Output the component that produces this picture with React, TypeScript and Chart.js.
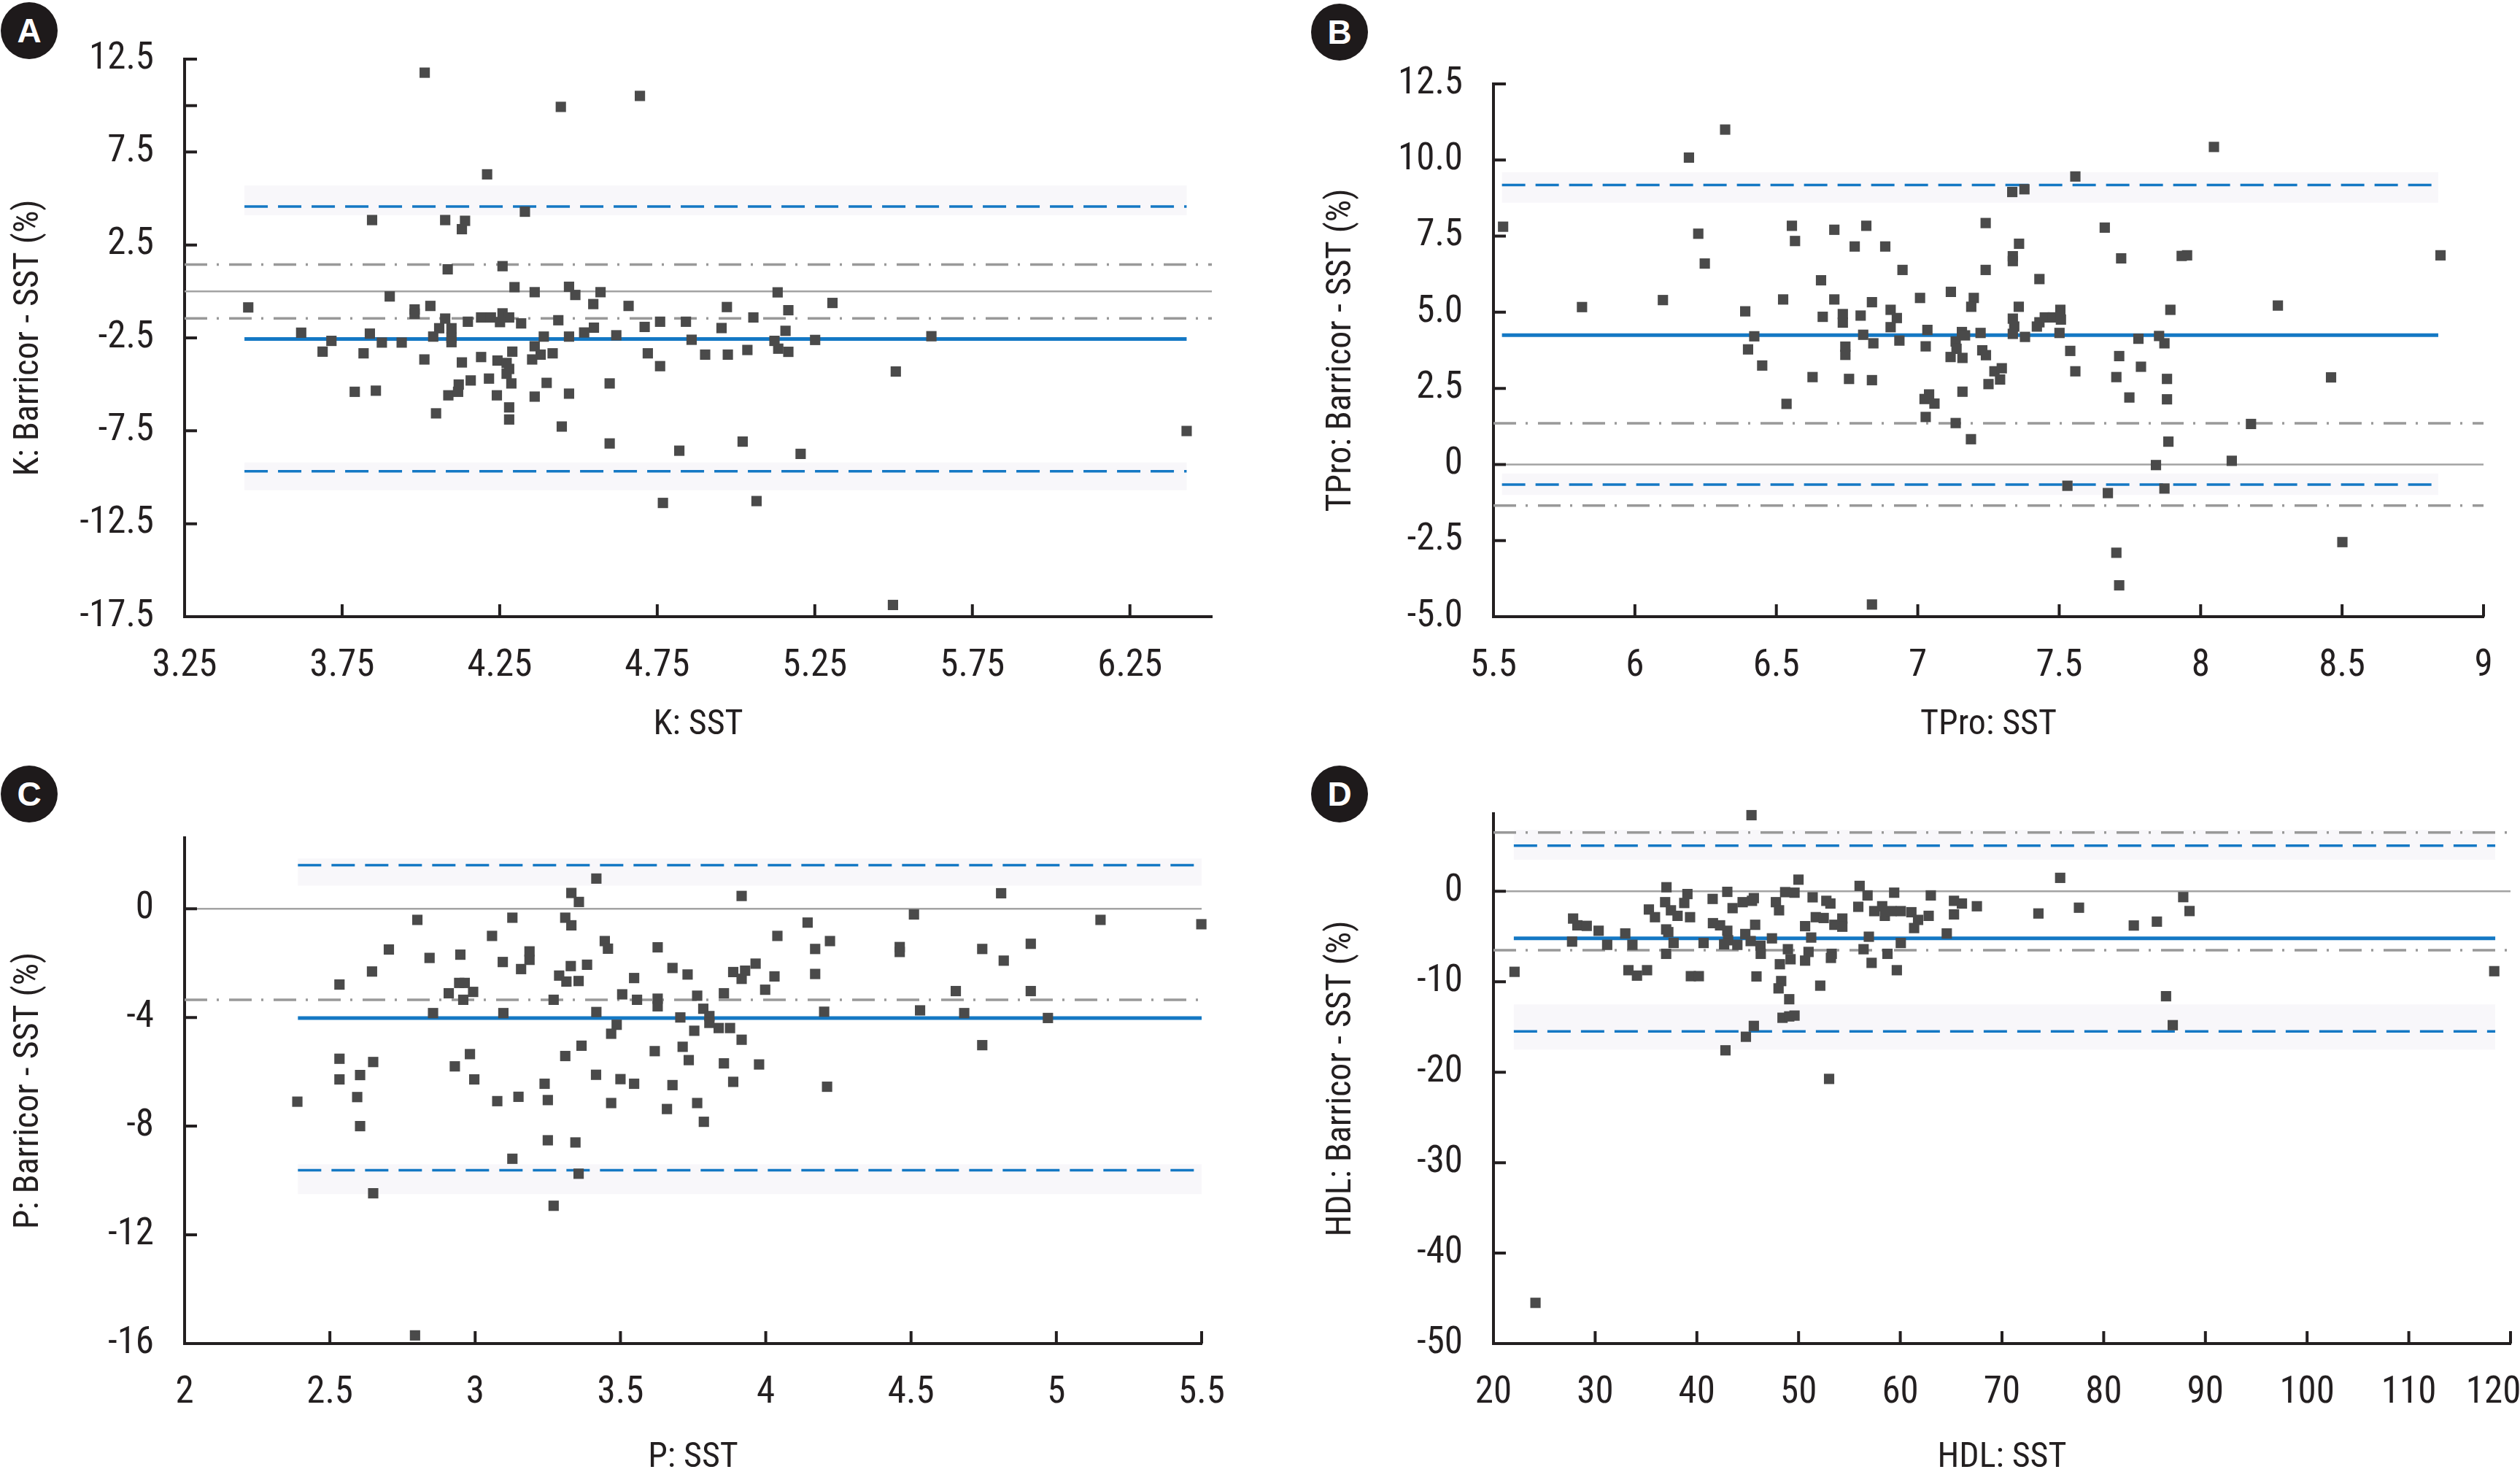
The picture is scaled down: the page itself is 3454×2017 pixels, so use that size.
import React, { useEffect, useRef } from 'react';
import { Chart, registerables } from 'chart.js';

Chart.register(...registerables);

type Pt = [number, number];

// ---------------- Panel A: K ----------------
const kPoints: Pt[] = [
  [4.21, 6.3], [4.33, 4.29], [3.845, 3.84], [4.077, 3.84], [4.14, 3.8], [4.13, 3.35], [4.085, 1.19], [4.259, 1.36],
  [4.297, 0.23], [4.361, -0.04], [4.47, 0.25], [4.49, -0.19], [4.57, -0.04], [3.901, -0.27], [4.547, -0.68], [4.659, -0.78],
  [3.98, -0.97], [4.03, -0.78], [3.98, -1.2], [4.077, -1.46], [4.149, -1.63], [4.191, -1.4], [4.222, -1.4], [4.259, -1.18],
  [4.28, -1.4], [4.251, -1.65], [4.318, -1.72], [4.436, -1.55], [4.549, -1.95], [4.71, -1.91], [4.759, -1.63], [4.841, -1.63],
  [4.058, -1.98], [4.097, -1.98], [3.838, -2.27], [4.039, -2.43], [4.097, -2.49], [4.39, -2.43], [4.47, -2.43], [4.518, -2.21],
  [4.62, -2.36], [3.716, -2.66], [3.876, -2.75], [3.939, -2.75], [4.097, -2.73], [4.859, -2.6], [3.688, -3.24], [3.818, -3.33],
  [4.361, -2.95], [4.38, -3.4], [4.29, -3.24], [4.418, -3.33], [4.011, -3.66], [4.191, -3.53], [4.243, -3.72], [4.272, -3.85],
  [4.353, -3.66], [4.13, -3.82], [4.72, -3.33], [4.759, -4.02], [4.28, -4.17], [4.272, -4.43], [4.158, -4.79], [4.216, -4.69],
  [4.12, -5.01], [4.287, -4.95], [4.399, -4.92], [4.599, -4.95], [3.79, -5.4], [3.857, -5.34], [4.087, -5.59], [4.118, -5.4],
  [4.241, -5.59], [4.361, -5.66], [4.47, -5.5], [4.28, -6.24], [4.28, -6.89], [4.048, -6.56], [4.447, -7.27], [4.599, -8.18],
  [4.82, -8.57], [4.768, -11.38], [4.012, 11.77], [4.444, 9.93], [4.695, 10.52], [3.452, -0.86], [3.62, -2.22],
  [4.902, -3.4], [4.954, -1.97], [4.971, -0.84], [4.974, -3.4], [5.036, -3.15], [5.021, -8.08], [5.055, -1.4], [5.065, -11.28],
  [5.132, -0.05], [5.166, -1.01], [5.157, -2.12], [5.122, -2.66], [5.134, -3.08], [5.166, -3.25], [5.205, -8.74], [5.251, -2.61],
  [5.306, -0.62], [5.507, -4.31], [5.498, -16.87], [5.62, -2.41], [6.43, -7.51],
];
const kMean = -2.56;
const kLimits = [4.57, -9.68];
const kAllowable = [1.45, -1.45];
const kSpan = [3.44, 6.43];
const kBands = [[4.1, 5.7], [-10.7, -9.2]];
const kXTicks = [3.25, 3.75, 4.25, 4.75, 5.25, 5.75, 6.25];
const kXLabels = ['3.25', '3.75', '4.25', '4.75', '5.25', '5.75', '6.25'];
const kYTicks = [12.5, 10, 7.5, 2.5, -2.5, -7.5, -12.5, -17.5];
const kYLabels = ['12.5', '', '7.5', '2.5', '-2.5', '-7.5', '-12.5', '-17.5'];

// ---------------- Panel B: TPro ----------------
const tproPoints: Pt[] = [
  [6.555, 7.84], [6.705, 7.71], [6.818, 7.84], [6.566, 7.34], [6.777, 7.16], [6.885, 7.16], [7.24, 7.93], [6.946, 6.39],
  [6.658, 6.05], [7.358, 7.25], [7.336, 6.84], [7.336, 6.68], [7.24, 6.39], [7.43, 6.09], [7.661, 7.78], [7.719, 6.77],
  [7.933, 6.85], [6.524, 5.42], [6.705, 5.42], [6.838, 5.33], [7.008, 5.47], [7.117, 5.67], [7.198, 5.47], [7.189, 5.18],
  [7.357, 5.18], [6.904, 5.08], [6.664, 4.85], [6.735, 4.94], [6.735, 4.66], [6.798, 4.89], [6.926, 4.81], [6.904, 4.51],
  [6.807, 4.26], [6.843, 3.98], [6.935, 4.07], [7.034, 4.42], [7.028, 3.88], [6.744, 3.87], [6.744, 3.6], [7.156, 4.35],
  [7.167, 4.24], [7.134, 4.04], [7.137, 3.8], [7.116, 3.53], [7.158, 3.5], [7.222, 4.32], [7.228, 3.75], [7.241, 3.59],
  [7.336, 4.79], [7.341, 4.53], [7.336, 4.29], [7.379, 4.19], [7.421, 4.53], [7.43, 4.67], [7.449, 4.83], [7.477, 4.83],
  [7.504, 5.08], [7.506, 4.76], [7.501, 4.32], [7.539, 3.73], [7.557, 3.06], [7.78, 4.13], [7.853, 4.22], [7.872, 3.98],
  [7.893, 5.08], [7.712, 3.56], [7.789, 3.21], [7.702, 2.87], [7.881, 2.81], [7.748, 2.2], [7.881, 2.14], [7.886, 0.75],
  [7.842, -0.02], [7.872, -0.79], [7.672, -0.94], [7.529, -0.7], [7.702, -2.9], [7.712, -3.97], [6.838, -4.6], [6.628, 2.87],
  [6.757, 2.81], [6.838, 2.77], [6.536, 1.99], [7.024, 2.15], [7.04, 2.3], [7.059, 2.0], [7.028, 1.56], [7.158, 2.39],
  [7.25, 2.64], [7.271, 3.06], [7.297, 3.16], [7.291, 2.79], [7.134, 1.36], [7.188, 0.83], [6.45, 3.25],
  [5.534, 7.81], [5.813, 5.17], [6.099, 5.4], [6.191, 10.08], [6.224, 7.58], [6.247, 6.6], [6.319, 11.0], [6.39, 5.03],
  [6.4, 3.78], [6.422, 4.21], [7.334, 8.95], [7.377, 9.04], [7.557, 9.46], [8.047, 10.43], [7.952, 6.87], [8.848, 6.87],
  [8.273, 5.22], [8.461, 2.86], [8.178, 1.33], [8.11, 0.12], [8.501, -2.55],
];
const tproMean = 4.25;
const tproLimits = [9.18, -0.66];
const tproAllowable = [1.35, -1.35];
const tproSpan = [5.53, 8.84];
const tproBands = [[8.6, 9.6], [-1.0, -0.3]];
const tproXTicks = [5.5, 6, 6.5, 7, 7.5, 8, 8.5, 9];
const tproXLabels = ['5.5', '6', '6.5', '7', '7.5', '8', '8.5', '9'];
const tproYTicks = [12.5, 10, 7.5, 5, 2.5, 0, -2.5, -5];
const tproYLabels = ['12.5', '10.0', '7.5', '5.0', '2.5', '0', '-2.5', '-5.0'];

// ---------------- Panel C: P ----------------
const pPoints: Pt[] = [
  [3.417, 1.11], [3.331, 0.58], [3.357, 0.25], [3.917, 0.47], [3.128, -0.33], [3.31, -0.33], [3.331, -0.61], [3.058, -1.0],
  [4.04, -1.0], [4.144, -0.51], [3.446, -1.19], [3.457, -1.47], [3.628, -1.42], [2.949, -1.69], [3.095, -1.96], [3.187, -1.57],
  [3.187, -1.88], [3.158, -2.22], [3.329, -2.11], [3.385, -2.06], [3.289, -2.46], [3.314, -2.68], [3.356, -2.66], [3.679, -2.18],
  [3.731, -2.42], [3.547, -2.55], [3.888, -2.33], [3.929, -2.28], [3.965, -2.02], [4.03, -2.49], [3.917, -2.58], [3.998, -2.98],
  [2.945, -2.73], [2.964, -2.73], [2.909, -3.11], [2.993, -3.06], [2.959, -3.35], [3.27, -3.35], [3.506, -3.15], [3.557, -3.35],
  [3.628, -3.31], [3.628, -3.59], [3.764, -3.2], [3.856, -3.11], [2.855, -3.84], [3.097, -3.84], [3.417, -3.8], [3.785, -3.68],
  [3.706, -4.0], [3.806, -3.95], [3.806, -4.2], [3.487, -4.27], [3.468, -4.6], [3.754, -4.49], [3.838, -4.39], [3.877, -4.39],
  [3.917, -4.82], [3.366, -5.04], [3.31, -5.42], [3.618, -5.24], [3.714, -5.08], [3.735, -5.57], [2.982, -5.35], [2.93, -5.8],
  [2.997, -6.28], [3.239, -6.44], [3.416, -6.11], [3.5, -6.27], [3.547, -6.44], [3.679, -6.49], [3.856, -5.69], [3.977, -5.73],
  [3.888, -6.37], [3.076, -7.08], [3.149, -6.92], [3.25, -7.04], [3.468, -7.15], [3.66, -7.37], [3.764, -7.15], [3.787, -7.84],
  [3.25, -8.52], [3.345, -8.6], [3.128, -9.2], [3.356, -9.75], [3.27, -10.93],
  [2.388, -7.1], [2.533, -2.79], [2.533, -5.52], [2.533, -6.28], [2.594, -6.93], [2.604, -6.12], [2.604, -8.0], [2.645, -2.31],
  [2.649, -5.64], [2.649, -10.47], [2.703, -1.5], [2.801, -0.41], [2.793, -15.7], [2.843, -1.81],
  [4.17, -1.48], [4.17, -2.4], [4.221, -1.19], [4.201, -3.79], [4.211, -6.55], [4.51, -0.21], [4.461, -1.41], [4.461, -1.59],
  [4.531, -3.74], [4.654, -3.03], [4.683, -3.84], [4.745, -1.48], [4.745, -5.02], [4.81, 0.57], [4.819, -1.91], [4.912, -1.29],
  [4.912, -3.03], [4.971, -4.02], [5.152, -0.41], [5.499, -0.57],
];
const pMean = -4.02;
const pLimits = [1.6, -9.62];
const pAllowable = [-3.35];
const pSpan = [2.39, 5.5];
const pBands = [[0.85, 1.85], [-10.5, -9.4]];
const pXTicks = [2, 2.5, 3, 3.5, 4, 4.5, 5, 5.5];
const pXLabels = ['2', '2.5', '3', '3.5', '4', '4.5', '5', '5.5'];
const pYTicks = [0, -4, -8, -12, -16];
const pYLabels = ['0', '-4', '-8', '-12', '-16'];

// ---------------- Panel D: HDL ----------------
const hdlPoints: Pt[] = [
  [45.37, 8.42], [37.01, 0.45], [39.07, -0.3], [36.88, -1.2], [38.76, -1.29], [35.28, -2.01], [37.45, -2.1], [35.88, -2.86],
  [38.1, -2.71], [39.33, -2.86], [41.55, -0.84], [42.99, -0.06], [43.51, -1.86], [44.5, -1.2], [45.42, -1.05], [45.6, -0.75],
  [41.58, -3.52], [42.28, -3.76], [36.98, -4.21], [37.19, -4.51], [45.73, -3.7], [42.99, -4.36], [44.76, -4.72], [43.07, -5.41],
  [45.29, -5.5], [40.66, -5.71], [42.68, -5.86], [43.98, -5.92], [37.71, -5.71], [36.98, -6.91], [27.83, -3.01], [28.25, -3.76],
  [29.17, -3.82], [30.34, -4.36], [27.73, -5.56], [31.18, -5.92], [32.96, -4.66], [33.66, -5.92], [33.27, -8.72], [34.11, -9.32],
  [35.1, -8.72], [39.41, -9.38], [40.19, -9.38], [49.99, 1.29], [48.68, -0.09], [49.6, -0.15], [47.77, -1.2], [48.08, -2.1],
  [47.38, -5.2], [46.25, -6.01], [46.28, -6.91], [48.95, -6.4], [49.21, -7.51], [48.16, -8.06], [50.64, -3.85], [51.24, -5.11],
  [50.98, -6.7], [50.64, -7.66], [51.38, -0.66], [52.73, -1.05], [53.13, -1.35], [51.69, -2.86], [52.47, -2.95], [54.3, -3.01],
  [54.3, -3.91], [53.52, -3.7], [53.26, -6.91], [53.18, -7.36], [45.86, -9.41], [48.29, -9.92], [48.03, -10.73], [49.08, -11.93],
  [48.42, -13.98], [49.08, -13.83], [49.6, -13.74], [52.13, -10.43], [45.6, -14.88], [44.82, -16.08], [42.81, -17.58], [53.0, -20.74],
  [56.0, 0.6], [56.78, -0.45], [55.87, -1.71], [57.44, -2.19], [58.22, -1.65], [58.48, -2.71], [59.4, -0.15], [59.14, -2.19],
  [60.05, -2.19], [61.09, -2.31], [61.75, -3.16], [61.36, -4.06], [62.79, -2.71], [63.0, -0.45], [65.28, -1.05], [66.06, -1.35],
  [65.28, -2.55], [64.57, -4.66], [56.91, -5.02], [60.05, -5.71], [56.39, -6.4], [57.18, -7.91], [58.74, -6.91], [59.66, -8.72],
  [22.07, -8.9], [24.13, -45.5], [67.53, -1.65], [73.58, -2.45], [75.72, 1.49], [77.57, -1.81], [82.96, -3.78], [85.23, -3.35],
  [86.13, -11.6], [86.79, -14.8], [87.82, -0.64], [88.44, -2.18], [118.4, -8.83],
];
const hdlMean = -5.2;
const hdlLimits = [5.05, -15.48];
const hdlAllowable = [6.5, -6.5];
const hdlSpan = [22.0, 118.5];
const hdlBands = [[3.5, 6.8], [-17.5, -12.5]];
const hdlXTicks = [20, 30, 40, 50, 60, 70, 80, 90, 100, 110, 120];
// the last label sits against the picture's right edge in the original, so it is pushed left with trailing spaces
const hdlXLabels = ['20', '30', '40', '50', '60', '70', '80', '90', '100', '110', '120    '];
const hdlYTicks = [0, -10, -20, -30, -40, -50];
const hdlYLabels = ['0', '-10', '-20', '-30', '-40', '-50'];

// ---------------- styling / layout ----------------
const FONT = '"Liberation Sans Narrow", "Arial Narrow", "Roboto Condensed", "DejaVu Sans Condensed", "Liberation Sans", sans-serif';
const INK = '#231f20';
const BLUE = '#1478c4';
const GRAY = '#a3a3a3';
const DASHDOT = '#999999';
const POINT = '#4a4a4a';
const BAND = 'rgba(240,237,245,0.45)';

interface PanelSpec {
  letter: string;
  box: number[]; // canvas left, top, width, height
  area: number[]; // chart area left, top, right, bottom (page px)
  badge: number[]; // badge center x, y
  xRange: number[];
  yRange: number[];
  xTicks: number[];
  xLabels: string[];
  yTicks: number[];
  yLabels: string[];
  xTitle: string;
  yTitle: string;
  points: Pt[];
  mean: number;
  limits: number[];
  allowable: number[];
  span: number[];
  bands: number[][];
}

const panels: PanelSpec[] = [
  {
    letter: 'A', box: [0, 0, 1720, 1023], area: [253, 81, 1661, 845], badge: [40, 42],
    xRange: [3.25, 6.51], yRange: [-17.5, 12.5], xTicks: kXTicks, xLabels: kXLabels, yTicks: kYTicks, yLabels: kYLabels,
    xTitle: 'K: SST', yTitle: 'K: Barricor - SST (%)', points: kPoints, mean: kMean, limits: kLimits,
    allowable: kAllowable, span: kSpan, bands: kBands,
  },
  {
    letter: 'B', box: [1790, 0, 1664, 1023], area: [2047, 115, 3404, 845], badge: [1836, 44],
    xRange: [5.5, 9], yRange: [-5, 12.5], xTicks: tproXTicks, xLabels: tproXLabels, yTicks: tproYTicks, yLabels: tproYLabels,
    xTitle: 'TPro: SST', yTitle: 'TPro: Barricor - SST (%)', points: tproPoints, mean: tproMean, limits: tproLimits,
    allowable: tproAllowable, span: tproSpan, bands: tproBands,
  },
  {
    letter: 'C', box: [0, 1030, 1720, 997], area: [253, 1148, 1647, 1841], badge: [40, 1088],
    xRange: [2, 5.5], yRange: [-16, 2.61], xTicks: pXTicks, xLabels: pXLabels, yTicks: pYTicks, yLabels: pYLabels,
    xTitle: 'P: SST', yTitle: 'P: Barricor - SST (%)', points: pPoints, mean: pMean, limits: pLimits,
    allowable: pAllowable, span: pSpan, bands: pBands,
  },
  {
    letter: 'D', box: [1790, 1030, 1664, 997], area: [2047, 1115, 3441, 1841], badge: [1836, 1088],
    xRange: [20, 120], yRange: [-50, 8.58], xTicks: hdlXTicks, xLabels: hdlXLabels, yTicks: hdlYTicks, yLabels: hdlYLabels,
    xTitle: 'HDL: SST', yTitle: 'HDL: Barricor - SST (%)', points: hdlPoints, mean: hdlMean, limits: hdlLimits,
    allowable: hdlAllowable, span: hdlSpan, bands: hdlBands,
  },
];

function hline(x0: number, x1: number, v: number, color: string, width: number, dash: number[]) {
  return {
    type: 'line' as const,
    data: [{ x: x0, y: v }, { x: x1, y: v }],
    showLine: true,
    borderColor: color,
    borderWidth: width,
    borderDash: dash,
    borderCapStyle: 'butt' as const,
    pointRadius: 0,
    fill: false,
    order: 2,
    clip: false as const,
  };
}

function Panel({ spec }: { spec: PanelSpec }) {
  const ref = useRef<HTMLCanvasElement>(null);
  useEffect(() => {
    const [cx, cy, cw, ch] = spec.box;
    const [L, T, R, B] = spec.area;
    const tickFont = { family: FONT, size: 51 };
    const titleFont = { family: FONT, size: 48 };

    const decor = {
      id: 'decor',
      beforeDatasetsDraw(chart: any) {
        const { ctx, scales } = chart;
        const xs = scales.x, ys = scales.y;
        ctx.save();
        ctx.fillStyle = BAND;
        const x0 = xs.getPixelForValue(spec.span[0]);
        const x1 = xs.getPixelForValue(spec.span[1]);
        for (const [lo, hi] of spec.bands) {
          const y0 = ys.getPixelForValue(hi);
          const y1 = ys.getPixelForValue(lo);
          ctx.fillRect(x0, y0, x1 - x0, y1 - y0);
        }
        ctx.restore();
      },
      afterDraw(chart: any) {
        const { ctx, chartArea, scales } = chart;
        const xs = scales.x, ys = scales.y;
        ctx.save();
        ctx.strokeStyle = INK;
        ctx.lineWidth = 4;
        ctx.beginPath();
        for (const t of xs.ticks) {
          const px = xs.getPixelForValue(t.value);
          if (Math.abs(px - chartArea.left) < 3) continue;
          ctx.moveTo(px, chartArea.bottom);
          ctx.lineTo(px, chartArea.bottom - 17);
        }
        for (const t of ys.ticks) {
          const py = ys.getPixelForValue(t.value);
          if (Math.abs(py - chartArea.bottom) < 3) continue;
          ctx.moveTo(chartArea.left, py);
          ctx.lineTo(chartArea.left + 17, py);
        }
        ctx.stroke();
        ctx.restore();
      },
    };

    const [xmin, xmax] = spec.xRange;
    const datasets: any[] = [
      {
        type: 'scatter',
        data: spec.points.map(([x, y]) => ({ x, y })),
        pointStyle: 'rect',
        pointRadius: 10,
        pointBackgroundColor: POINT,
        pointBorderWidth: 0,
        order: 0,
        clip: false,
      },
      hline(xmin, xmax, 0, GRAY, 2.5, []),
      ...spec.allowable.map((v) => hline(xmin, xmax, v, DASHDOT, 3.5, [31, 13, 3, 14])),
      ...spec.limits.map((v) => hline(spec.span[0], spec.span[1], v, BLUE, 3.5, [32, 14])),
      hline(spec.span[0], spec.span[1], spec.mean, BLUE, 5, []),
    ];

    const chart = new Chart(ref.current as HTMLCanvasElement, {
      type: 'scatter',
      data: { datasets },
      options: {
        responsive: false,
        maintainAspectRatio: false,
        animation: false,
        devicePixelRatio: 1,
        events: [],
        layout: { padding: { left: 0, top: T - cy, right: cx + cw - R, bottom: 0 } },
        plugins: { legend: { display: false }, tooltip: { enabled: false } },
        scales: {
          x: {
            type: 'linear',
            min: xmin,
            max: xmax,
            grid: { display: false, drawTicks: false },
            border: { display: true, color: INK, width: 4 },
            ticks: {
              font: tickFont,
              color: INK,
              padding: 38,
              autoSkip: false,
              maxRotation: 0,
              callback: (_v: any, i: number) => spec.xLabels[i],
            },
            afterBuildTicks: (s: any) => { s.ticks = spec.xTicks.map((value) => ({ value })); },
            afterFit: (s: any) => { s.height = cy + ch - B; s.paddingLeft = 0; s.paddingRight = 0; },
            title: { display: true, text: spec.xTitle, font: titleFont, color: INK, padding: { top: 0, bottom: 0 } },
          },
          y: {
            type: 'linear',
            min: spec.yRange[0],
            max: spec.yRange[1],
            grid: { display: false, drawTicks: false },
            border: { display: true, color: INK, width: 4 },
            ticks: {
              font: tickFont,
              color: INK,
              padding: 42,
              autoSkip: false,
              callback: (_v: any, i: number) => spec.yLabels[i],
            },
            afterBuildTicks: (s: any) => { s.ticks = spec.yTicks.map((value) => ({ value })); },
            afterFit: (s: any) => { s.width = L - cx; s.paddingTop = 0; s.paddingBottom = 0; },
            title: { display: true, text: spec.yTitle, font: titleFont, color: INK, padding: { top: cx === 0 ? 11 : 20, bottom: 0 } },
          },
        },
      } as any,
      plugins: [decor],
    });
    return () => chart.destroy();
  }, [spec]);

  const [cx, cy, cw, ch] = spec.box;
  return (
    <>
      <canvas
        ref={ref}
        width={cw}
        height={ch}
        style={{ position: 'absolute', left: cx, top: cy, width: cw, height: ch }}
      />
      <div
        style={{
          position: 'absolute',
          left: spec.badge[0] - 39,
          top: spec.badge[1] - 39,
          width: 78,
          height: 78,
          borderRadius: '50%',
          background: '#1e1a1b',
          color: '#fff',
          fontFamily: '"Liberation Sans", Arial, sans-serif',
          fontWeight: 700,
          fontSize: 46,
          lineHeight: '78px',
          textAlign: 'center',
        }}
      >
        {spec.letter}
      </div>
    </>
  );
}

export default function App() {
  return (
    <div
      style={{
        position: 'absolute',
        left: 0,
        top: 0,
        width: 3454,
        height: 2017,
        overflow: 'hidden',
        background: '#ffffff',
      }}
    >
      {panels.map((p) => (
        <Panel key={p.letter} spec={p} />
      ))}
    </div>
  );
}
